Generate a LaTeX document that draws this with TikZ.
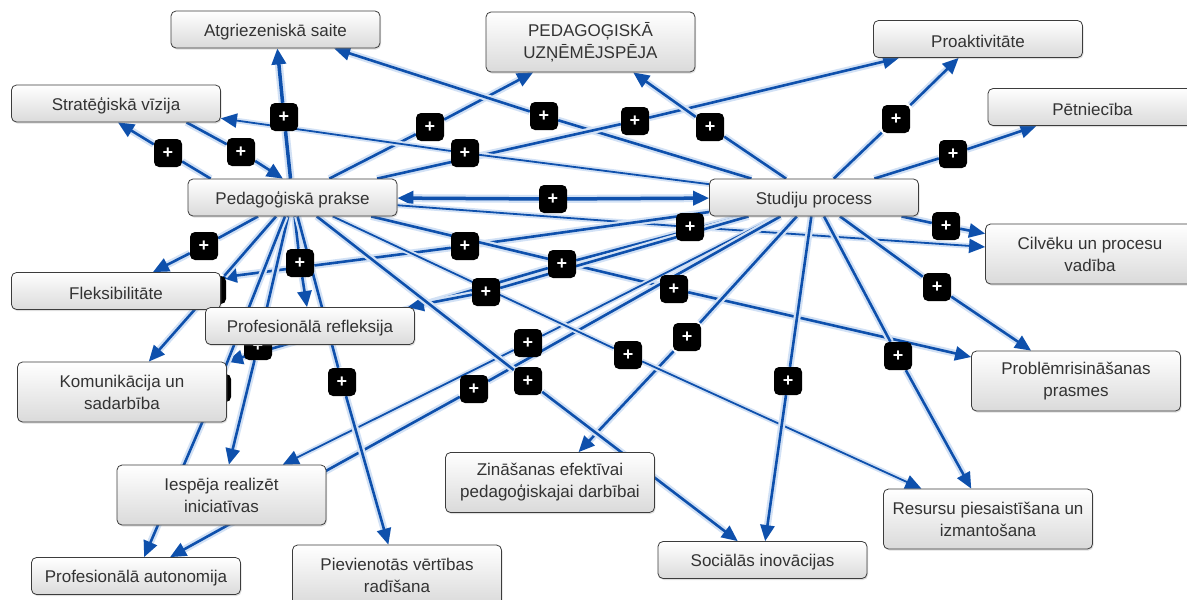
\documentclass[tikz,border=0pt]{standalone}
\usepackage{fontspec}
\setmainfont{Liberation Sans}
\usetikzlibrary{arrows.meta,shadows,backgrounds}
\definecolor{lnblue}{RGB}{14,80,172}
\definecolor{halocol}{RGB}{210,225,245}
\definecolor{txtcol}{RGB}{51,51,51}
\definecolor{bordcol}{RGB}{60,60,60}
\definecolor{gbot}{RGB}{218,218,218}
\newcommand\cmaplink[4][lnA]{\draw[#1] (#2) -- (#3); \draw[#1,arr] (#3) -- (#4);}
\begin{document}
\begin{tikzpicture}[x=1pt,y=-1pt,
  concept/.style={draw=bordcol,line width=0.8pt,rounded corners=5pt,top color=white,bottom color=gbot,
    minimum width=209pt,minimum height=37pt,align=center,text=txtcol,
    font=\fontsize{17}{22}\selectfont,inner sep=2pt,
    execute at begin node={\rule{0pt}{17.5pt}},
    drop shadow={opacity=0.25,shadow xshift=1pt,shadow yshift=-1.5pt}},
  tall/.style={minimum height=60pt},
  plus/.style={fill=black,rounded corners=5pt,minimum size=28pt,inner sep=0pt,text=white,
    font=\fontsize{18}{18}\selectfont\bfseries},
  lnA/.style={draw=lnblue,line width=2.6pt,preaction={draw=halocol,line width=7pt}},
  lnB/.style={draw=lnblue,line width=1.8pt,preaction={draw=halocol,line width=5.5pt}},
  lnC/.style={draw=lnblue,line width=3.5pt,preaction={draw=halocol,line width=8pt}},
  arr/.style={-{Triangle[length=16pt,width=14pt]}},
  arrboth/.style={{Triangle[length=16pt,width=14pt]}-},
]
\useasboundingbox (0,0) rectangle (1187,600);

% linking phrases
\node[plus] (p1) at (284,117) {+};
\node[plus] (p2) at (168,153) {+};
\node[plus] (p3) at (241,152) {+};
\node[plus] (p4) at (430,127) {+};
\node[plus] (p5) at (544,116) {+};
\node[plus] (p6) at (635,121) {+};
\node[plus] (p7) at (710,127) {+};
\node[plus] (p8) at (465,153) {+};
\node[plus] (p9) at (896,119) {+};
\node[plus] (p10) at (953,154) {+};
\node[plus] (p11) at (553,199) {+};
\node[plus] (p12) at (946,226) {+};
\node[plus] (p13) at (690,227) {+};
\node[plus] (p14) at (204,246) {+};
\node[plus] (p15) at (300,263) {+};
\node[plus] (p16) at (465,246) {+};
\node[plus] (p17) at (562,264) {+};
\node[plus] (p18) at (486,292) {+};
\node[plus] (p19) at (674,289) {+};
\node[plus] (p20) at (937,287) {+};
\node[plus] (p21) at (687,337) {+};
\node[plus] (p22) at (528,343) {+};
\node[plus] (p23) at (628,355) {+};
\node[plus] (p24) at (258,346) {+};
\node[plus] (p25) at (217,388) {+};
\node[plus] (p26) at (342,382) {+};
\node[plus] (p27) at (474,389) {+};
\node[plus] (p28) at (528,381) {+};
\node[plus] (p29) at (788,381) {+};
\node[plus] (p30) at (898,356) {+};
\node[plus] (pF) at (212,290) {+};

% concepts
\node[concept] (atg) at (275.5,29.5) {Atgriezeniskā saite};
\node[concept,tall] (ped) at (590.5,42) {PEDAGOĢISKĀ\\UZŅĒMĒJSPĒJA};
\node[concept] (pro) at (978,39) {Proaktivitāte};
\node[concept] (pet) at (1092.5,107) {Pētniecība};
\node[concept] (str) at (116,103.5) {Stratēģiskā vīzija};
\node[concept] (pp) at (292.5,197.5) {Pedagoģiskā prakse};
\node[concept] (stu) at (814,197.5) {Studiju process};
\node[concept,tall] (cil) at (1090,254) {Cilvēku un procesu\\vadība};
\node[concept] (fle) at (116,291) {Fleksibilitāte};
\node[concept] (prf) at (310,326) {Profesionālā refleksija};
\node[concept,tall] (kom) at (122,392) {Komunikācija un\\sadarbība};
\node[concept,tall] (prb) at (1076,381) {Problēmrisināšanas\\prasmes};
\node[concept,tall] (ies) at (221.5,495) {Iespēja realizēt\\iniciatīvas};
\node[concept,tall] (zin) at (550,482.5) {Zināšanas efektīvai\\pedagoģiskajai darbībai};
\node[concept,tall] (res) at (988,519) {Resursu piesaistīšana un\\izmantošana};
\node[concept] (aut) at (136,576) {Profesionālā autonomija};
\node[concept,tall] (pie) at (397,575) {Pievienotās vērtības\\radīšana};
\node[concept] (soc) at (762.5,560) {Sociālās inovācijas};

\begin{scope}[on background layer]
\fill[white] (0,0) rectangle (1187,600);
\cmaplink[lnC]{pp}{p1}{atg}
\cmaplink{pp.167}{p2}{str.-84}
\cmaplink{str.-15}{p3}{pp.117}
\cmaplink{pp}{p4}{ped}
\cmaplink{stu}{p5}{atg}
\cmaplink{pp}{p6}{pro}
\cmaplink{stu}{p7}{ped}
\cmaplink[lnB]{stu}{p8}{str}
\cmaplink{stu}{p9}{pro}
\cmaplink{stu}{p10}{pet}
\draw[lnC,arrboth] (pp) -- (p11);
\draw[lnC,arr] (p11) -- (stu);
\cmaplink{stu}{p12}{cil}
\cmaplink[lnB]{pp}{p13}{cil}
\cmaplink{pp}{p14}{fle}
\cmaplink{stu}{p16}{fle}
\cmaplink{pp}{p15}{prf}
\cmaplink{pp}{pF}{kom}
\cmaplink{stu}{p17}{kom}
\cmaplink{pp}{p19}{prb}
\cmaplink{stu}{p20}{prb}
\cmaplink{stu}{p18}{prf}
\cmaplink{pp}{p24}{ies}
\cmaplink{pp}{p25}{aut}
\cmaplink[lnB]{stu}{p22}{ies}
\cmaplink{stu}{p27}{aut}
\cmaplink{stu}{p21}{zin}
\cmaplink[lnB]{pp}{p23}{res}
\cmaplink{stu}{p30}{res}
\cmaplink{pp}{p26}{pie}
\cmaplink{pp}{p28}{soc}
\cmaplink{stu}{p29}{soc}
\end{scope}
\end{tikzpicture}
\end{document}
